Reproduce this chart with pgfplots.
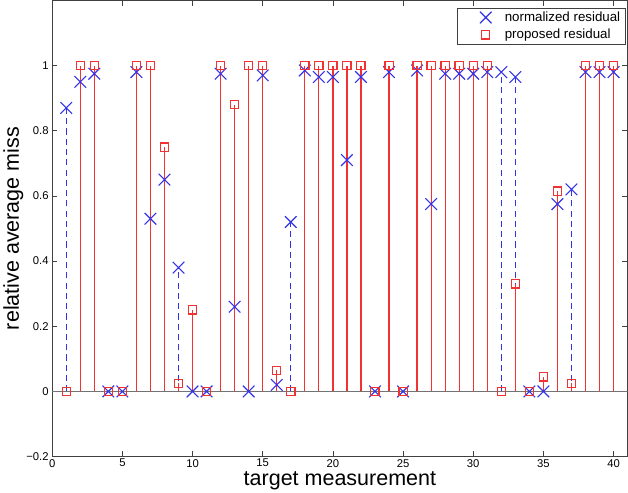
\documentclass[border=0pt]{standalone}
\usepackage{fontspec}
\setmainfont{Liberation Sans}
\usepackage{pgfplots}
\usepackage{pgfplotstable}
\pgfplotsset{compat=1.18}
\definecolor{mblue}{RGB}{50,50,230}
\definecolor{mred}{RGB}{240,50,50}
\pgfplotstableread{
x n p
1 0.87 0
2 0.95 1
3 0.975 1
4 0 0
5 0 0
6 0.98 1
7 0.53 1
8 0.65 0.75
9 0.38 0.025
10 0 0.25
11 0 0
12 0.975 1
13 0.26 0.88
14 0 1
15 0.97 1
16 0.02 0.065
17 0.52 0
18 0.985 1
19 0.965 1
20 0.965 1
21 0.71 1
22 0.965 1
23 0 0
24 0.98 1
25 0 0
26 0.985 1
27 0.575 1
28 0.975 1
29 0.975 1
30 0.975 1
31 0.98 1
32 0.98 0
33 0.965 0.33
34 0 0
35 0 0.045
36 0.575 0.615
37 0.62 0.025
38 0.98 1
39 0.98 1
40 0.98 1
}\data
\begin{document}
\begin{tikzpicture}
\begin{axis}[
  width=560bp, height=444bp, scale only axis,
  xmin=0, xmax=41, ymin=-0.2, ymax=1.2,
  xtick={0,5,...,40},
  ytick={-0.2,0,0.2,0.4,0.6,0.8,1},
  yticklabels={−0.2,0,0.2,0.4,0.6,0.8,1},
  tick align=inside, major tick length=5bp,
  tick style={black!75, line width=0.6bp},
  axis line style={black!75, line width=0.8bp},
  ticklabel style={font=\fontsize{11}{13}\selectfont},
  xticklabel style={yshift=1bp},
  /pgf/number format/assume math mode=true,
  xlabel={target measurement}, ylabel={relative average miss},
  label style={font=\fontsize{21}{24}\selectfont},
  xlabel style={yshift=3bp},
  ylabel style={yshift=-4bp},
  legend style={at={(1,1)}, anchor=north east, xshift=-2bp, yshift=-7bp,
    draw=black!75, font=\fontsize{13}{15}\selectfont, row sep=2bp,
    inner xsep=3bp, inner ysep=2bp},
  legend cell align=left,
  legend image code/.code={\path (0bp,0bp) (40bp,0bp);\draw[#1] plot coordinates {(24bp,0bp)};},
]
\addplot[black!55, line width=0.8bp, forget plot] coordinates {(0,0) (41,0)};
\addplot[ycomb, color=mblue, draw=mblue, line width=1.2bp, dash pattern=on 6bp off 4bp, forget plot] table[x=x,y=n]{\data};
\addplot[ycomb, color=mred, draw=mred, line width=1.2bp, forget plot] table[x=x,y=p]{\data};
\addplot[only marks, color=mblue, mark=x, mark size=8bp, line width=1.1bp] table[x=x,y=n]{\data};
\addplot[only marks, color=mred, mark=square, mark size=4bp, line width=1.2bp] table[x=x,y=p]{\data};
\legend{normalized residual, proposed residual}
\end{axis}
\end{tikzpicture}
\end{document}
